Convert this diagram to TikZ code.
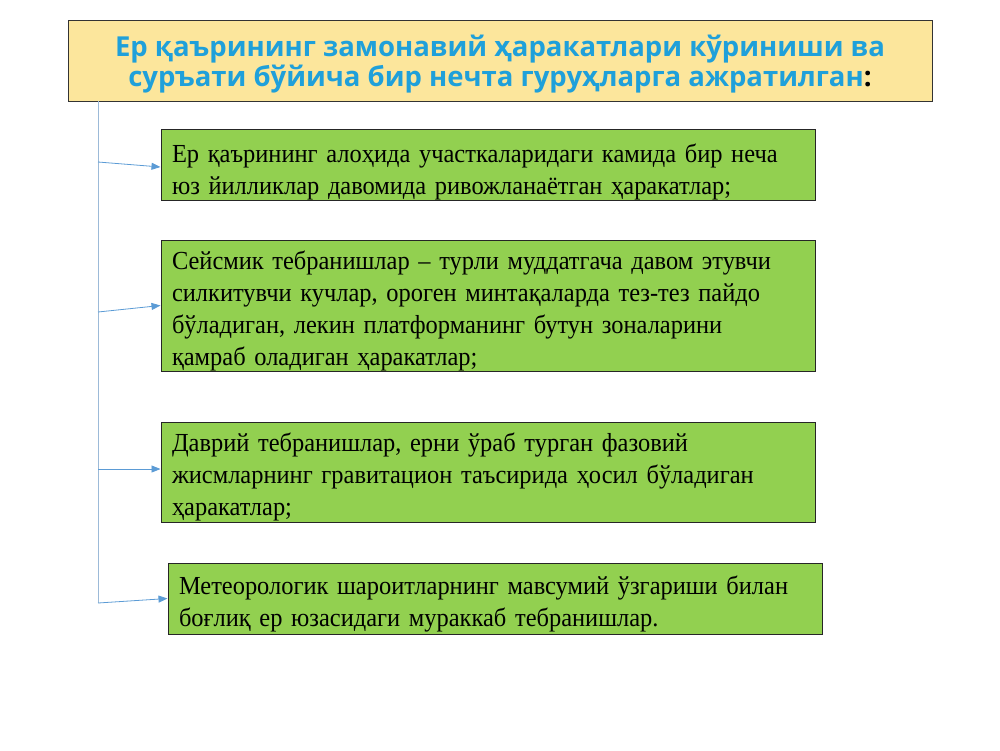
\documentclass[tikz,border=0pt]{standalone}
\usepackage{fontspec}
\setmainfont{Liberation Serif}[FakeStretch=0.94]
\newfontfamily\titlefont{Open Sans}
\usetikzlibrary{arrows.meta}
\definecolor{titlefill}{HTML}{FCE69C}
\definecolor{titleblue}{HTML}{1FA0DA}
\definecolor{boxgreen}{HTML}{92D050}
\definecolor{trunkblue}{HTML}{9CBAD8}
\definecolor{arrowblue}{HTML}{5B9BD5}
\newcommand\myboxfont{\fontsize{26pt}{32pt}\selectfont}
\tikzset{
  titlebox/.style={draw=black!80, line width=0.8pt, fill=titlefill, minimum width=864pt, minimum height=81pt, inner sep=0pt},
  greenbox/.style={draw=black!85, line width=1pt, fill=boxgreen, minimum width=654pt, align=left, inner sep=0pt, text width=632pt, font=\myboxfont},
  trunk/.style={draw=trunkblue, line width=0.9pt},
  branch/.style={draw=arrowblue, line width=0.8pt, -{Triangle[length=9pt,width=7pt]}}
}
\begin{document}
\begin{tikzpicture}[x=1pt,y=-1pt]
\useasboundingbox (0,0) rectangle (1000,750);
\node[titlebox] (title) at (500,60.5) {};
\node[align=center, text=titleblue, font=\titlefont\bfseries\fontsize{27.5pt}{30pt}\selectfont] (titletext) at (500,64)
  {Ер қаърининг замонавий ҳаракатлари кўриниши ва\\суръати бўйича бир нечта гуруҳларга ажратилган\textcolor{black}{:}};
\node[greenbox, minimum height=70pt] (b1) at (488,165) {\rule{0pt}{33pt}Ер қаърининг алоҳида участкаларидаги камида бир неча\\юз йилликлар давомида ривожланаётган ҳаракатлар;};
\node[greenbox, minimum height=131pt] (b2) at (488,305.5) {\rule{0pt}{29pt}Сейсмик тебранишлар – турли муддатгача давом этувчи\\силкитувчи кучлар, ороген минтақаларда тез-тез пайдо\\бўладиган, лекин платформанинг бутун зоналарини\\қамраб оладиган ҳаракатлар;};
\node[greenbox, minimum height=100pt] (b3) at (488,472) {\rule{0pt}{28pt}Даврий тебранишлар, ерни ўраб турган фазовий\\жисмларнинг гравитацион таъсирида ҳосил бўладиган\\ҳаракатлар;};
\node[greenbox, minimum height=71pt] (b4) at (495,598.5) {\rule{0pt}{29pt}Метеорологик шароитларнинг мавсумий ўзгариши билан\\боғлиқ ер юзасидаги мураккаб тебранишлар.};
\coordinate (ttop) at (98,101);
\coordinate (j1) at (98,162);
\coordinate (j2) at (98,312);
\coordinate (j3) at (98,469);
\coordinate (j4) at (98,603);
\draw[trunk] (ttop) -- (j4);
\draw[branch] (j1) -- ([yshift=-2pt]b1.west);
\draw[branch] (j2) -- (b2.west);
\draw[branch] (j3) -- ([yshift=3pt]b3.west);
\draw[branch] (j4) -- (b4.west);
\end{tikzpicture}
\end{document}
